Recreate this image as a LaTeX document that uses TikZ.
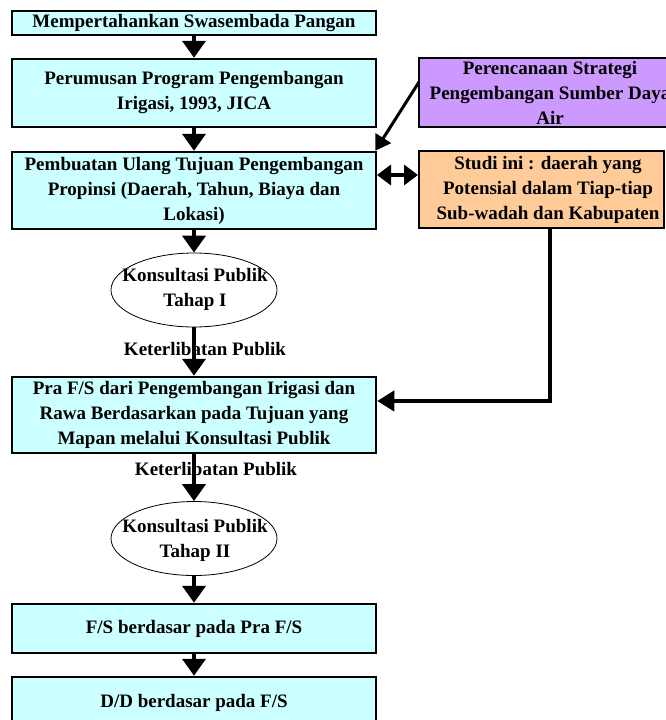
\documentclass[tikz,border=0pt]{standalone}
\usepackage{fontspec}
\setmainfont{Liberation Serif}
\usetikzlibrary{shapes.geometric,arrows.meta}
\definecolor{cyanbox}{HTML}{CCFFFF}
\definecolor{purplebox}{HTML}{CC99FF}
\definecolor{orangebox}{HTML}{FFCC99}
\begin{document}
\begin{tikzpicture}[x=1pt,y=-1pt,
  txt/.style={font=\fontsize{19}{25}\selectfont\bfseries,align=center,inner sep=0pt},
  box/.style={txt,draw,line width=2.5pt,fill=cyanbox,minimum width=364pt},
  sidebox/.style={txt,draw,line width=2.5pt},
  oval/.style={ellipse,draw,line width=0.8pt,fill=white,minimum width=166pt,minimum height=74pt,inner sep=0pt},
  flow/.style={line width=4pt,-{Triangle[width=23pt,length=17pt]}},
  thinflow/.style={line width=3pt,-{Triangle[width=18pt,length=15pt]}},
  both/.style={line width=4pt,{Triangle[width=20pt,length=14pt]}-{Triangle[width=20pt,length=14pt]}}
]
\useasboundingbox (0,0) rectangle (666,720);

\node[box,minimum height=24pt] (b1) at (194,23) {Mempertahankan Swasembada Pangan};
\node[box,minimum height=68pt] (b2) at (194,93) {Perumusan Program Pengembangan\\Irigasi, 1993, JICA};
\node[box,minimum height=77pt] (b3) at (194,190.5) {Pembuatan Ulang Tujuan Pengembangan\\Propinsi (Daerah, Tahun, Biaya dan\\Lokasi)};
\node[box,minimum height=76pt] (b4) at (194,415) {Pra F/S dari Pengembangan Irigasi dan\\Rawa Berdasarkan pada Tujuan yang\\Mapan melalui Konsultasi Publik};
\node[box,minimum height=49pt] (b5) at (194,628.5) {F/S berdasar pada Pra F/S};
\node[box,minimum height=52pt] (b6) at (194,703) {D/D berdasar pada F/S};

\node[sidebox,fill=purplebox,minimum width=262pt,minimum height=69pt] (p) at (550,92.5) {Perencanaan Strategi\\Pengembangan Sumber Daya\\Air};
\node[sidebox,fill=orangebox,minimum width=245pt,minimum height=77pt] (o) at (541.5,189.5) {};
\node[txt] (ot) at (548,189.5) {Studi ini : daerah yang\\Potensial dalam Tiap-tiap\\Sub-wadah dan Kabupaten};

\node[oval] (e1) at (194,290) {};
\node[txt] (e1t) at (195,289) {Konsultasi Publik\\Tahap I};
\node[oval] (e2) at (194,538.5) {};
\node[txt] (e2t) at (195,540) {Konsultasi Publik\\Tahap II};

\node[txt] (k1) at (205,349) {Keterlibatan Publik};
\node[txt] (k2) at (216,469) {Keterlibatan Publik};

\draw[flow] (b1.south) -- (b2.north);
\draw[flow] (b2.south) -- (b3.north);
\draw[flow] (b3.south) -- (e1.north);
\draw[flow] (e1.south) -- (b4.north);
\draw[flow] (b4.south) -- (e2.north);
\draw[flow] (e2.south) -- (b5.north);
\draw[flow] (b5.south) -- (b6.north);

\coordinate (ps) at (419,82);
\draw[thinflow] (ps) -- ([xshift=-2pt]b3.north east);

\coordinate (da) at (376,175);
\coordinate (db) at (419,175);
\draw[both] ([xshift=1pt]da) -- ([xshift=-1pt]db);

\coordinate (c1) at (550,401);
\draw[flow,-{Triangle[width=20pt,length=17pt]}] (o.south -| c1) -- (c1) -- (b4.east |- c1);
\end{tikzpicture}
\end{document}
